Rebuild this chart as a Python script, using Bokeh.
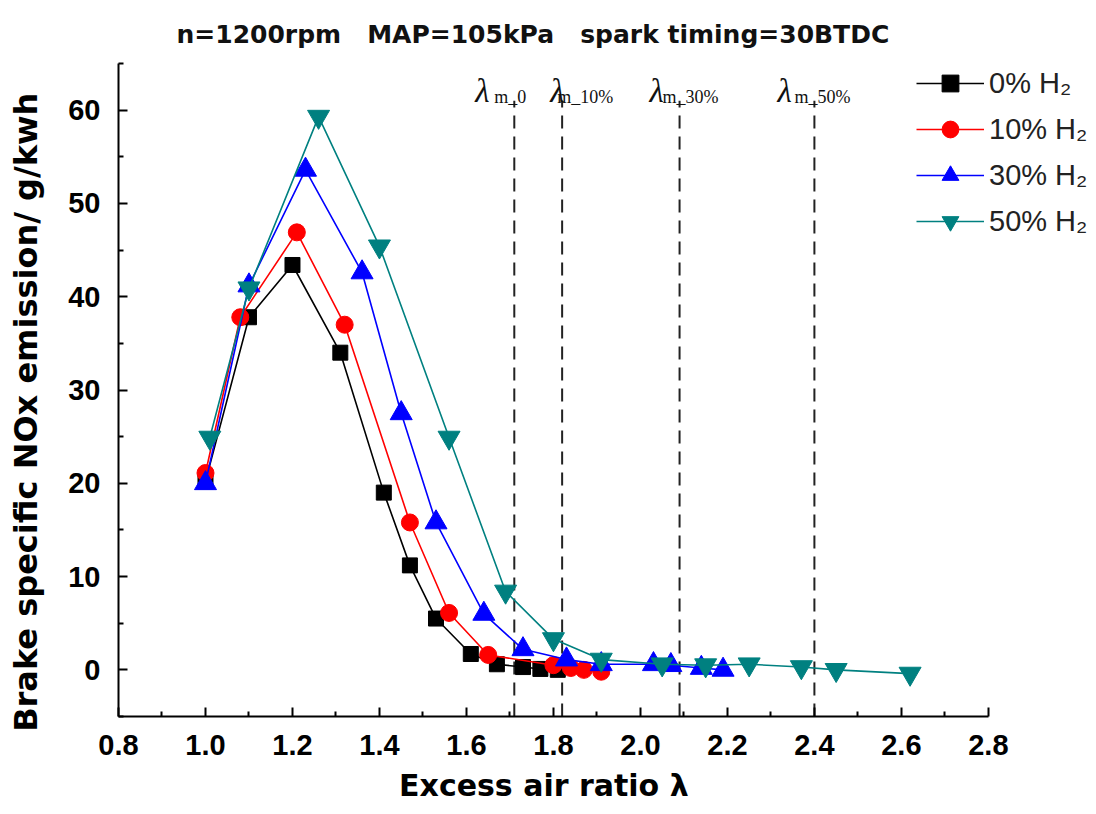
from bokeh.plotting import figure
from bokeh.models import Range1d, FixedTicker, PrintfTickFormatter, Legend, LegendItem, ColumnDataSource
from bokeh.core.properties import value
from bokeh.embed import file_html
from bokeh.resources import INLINE

# ---------------- data ----------------
x_h0 = [1.00, 1.10, 1.20, 1.31, 1.41, 1.47, 1.53, 1.61, 1.67, 1.73, 1.77, 1.81]
y_h0 = [20.2, 37.8, 43.4, 34.0, 19.0, 11.2, 5.5, 1.7, 0.6, 0.3, 0.1, 0.0]

x_h10 = [1.00, 1.08, 1.21, 1.32, 1.47, 1.56, 1.65, 1.80, 1.84, 1.87, 1.91]
y_h10 = [21.1, 37.8, 46.9, 37.0, 15.8, 6.1, 1.6, 0.5, 0.2, 0.0, -0.2]

x_h30 = [1.00, 1.10, 1.23, 1.36, 1.45, 1.53, 1.64, 1.73, 1.83, 1.91, 2.03, 2.07, 2.14, 2.19]
y_h30 = [20.0, 41.2, 53.6, 42.6, 27.5, 15.8, 6.0, 2.2, 1.1, 0.6, 0.6, 0.5, 0.2, 0.0]

x_h50 = [1.01, 1.10, 1.26, 1.40, 1.56, 1.69, 1.80, 1.91, 2.05, 2.15, 2.25, 2.37, 2.45, 2.62]
y_h50 = [24.9, 40.9, 59.3, 45.4, 24.9, 8.4, 3.3, 1.1, 0.6, 0.5, 0.6, 0.3, 0.0, -0.4]

series_labels = ["0% H₂", "10% H₂", "30% H₂", "50% H₂"]

lambda_m = [1.71, 1.82, 2.09, 2.40]
lambda_sub = ["m_0", "m_10%", "m_30%", "m_50%"]

x_major = [0.8, 1.0, 1.2, 1.4, 1.6, 1.8, 2.0, 2.2, 2.4, 2.6, 2.8]
x_minor = [0.9, 1.1, 1.3, 1.5, 1.7, 1.9, 2.1, 2.3, 2.5, 2.7]
y_major = [0, 10, 20, 30, 40, 50, 60]
y_minor = [-5, 5, 15, 25, 35, 45, 55, 65]

NB = "\u00a0"
title_text = "n=1200rpm" + NB * 3 + "MAP=105kPa" + NB * 3 + "spark timing=30BTDC"
x_label = "Excess air ratio  λ" + NB * 11
y_label = "Brake specific NOx emission/ g/kwh" + NB * 4

# ---------------- figure ----------------
# x axis is drawn from 0.8 to 2.8; the frame extends further right to host the legend
p = figure(width=1096, height=812, output_backend="svg", toolbar_location=None,
           x_range=Range1d(0.8, 3.044), y_range=Range1d(-5, 65),
           min_border_left=118, min_border_right=2, min_border_top=63, min_border_bottom=96)
p.outline_line_color = None
p.xgrid.visible = False
p.ygrid.visible = False
p.background_fill_color = "white"

p.title.text = title_text
p.title.align = "left"
p.title.offset = 58
p.title.text_font = "DejaVu Sans"
p.title.text_font_style = "bold"
p.title.text_font_size = "25px"
p.title.text_color = "#111111"
p.title.standoff = 30

for ax in (p.xaxis[0], p.yaxis[0]):
    ax.axis_line_width = 2
    ax.major_tick_line_width = 2
    ax.minor_tick_line_width = 2
    ax.major_tick_in = 9
    ax.major_tick_out = 0
    ax.minor_tick_in = 5
    ax.minor_tick_out = 0
    ax.major_label_text_font = "Liberation Sans"
    ax.major_label_text_font_style = "bold"
    ax.major_label_text_font_size = "29px"
    ax.major_label_text_color = "black"
    ax.axis_label_text_font = "DejaVu Sans"
    ax.axis_label_text_font_style = "bold"
    ax.axis_label_text_color = "black"

p.xaxis[0].bounds = (0.8, 2.8)
p.xaxis[0].ticker = FixedTicker(ticks=x_major, minor_ticks=x_minor)
p.xaxis[0].formatter = PrintfTickFormatter(format="%.1f")
p.xaxis[0].major_label_standoff = 18
p.xaxis[0].axis_label = x_label
p.xaxis[0].axis_label_text_font_size = "30px"
p.xaxis[0].axis_label_standoff = 10

p.yaxis[0].ticker = FixedTicker(ticks=y_major, minor_ticks=y_minor)
p.yaxis[0].major_label_standoff = 18
p.yaxis[0].axis_label = y_label
p.yaxis[0].axis_label_text_font_size = "32px"
p.yaxis[0].axis_label_standoff = 20

# dashed lambda_m lines
dash_bottom, dash_top = -5, 61
p.segment(x0=lambda_m, y0=[dash_bottom] * 4, x1=lambda_m, y1=[dash_top] * 4,
          line_color="#222222", line_width=2, line_dash="13 8")

lam_src = ColumnDataSource(dict(x=lambda_m, lam=["λ"] * 4, sub=lambda_sub,
                                off_l=[-39, -12, -30, -37], off_s=[-20, -5, -17, -20]))
p.text(x="x", y=62.0, text="lam", x_offset="off_l", source=lam_src,
       text_font=value("Liberation Serif"), text_font_style="italic",
       text_font_size="33px", text_color="#111111", text_baseline="alphabetic")
p.text(x="x", y=61.4, text="sub", x_offset="off_s", source=lam_src,
       text_font=value("Liberation Serif"), text_font_size="18px",
       text_color="#111111", text_baseline="alphabetic")

# series
items = []
specs = [
    (x_h0, y_h0, "black", "square", 15),
    (x_h10, y_h10, "red", "circle", 17),
    (x_h30, y_h30, "blue", "triangle", 22),
    (x_h50, y_h50, "#008080", "inverted_triangle", 22),
]
for (xs, ys, col, mk, sz), lab in zip(specs, series_labels):
    r1 = p.line(xs, ys, line_color=col, line_width=1.6)
    r2 = p.scatter(xs, ys, marker=mk, size=sz, fill_color=col, line_color=col)
    items.append(LegendItem(label=lab, renderers=[r1, r2]))

legend = Legend(items=items, location=(794, 470))
legend.border_line_alpha = 0
legend.background_fill_alpha = 0
legend.label_text_font = "Liberation Sans"
legend.label_text_font_size = "29px"
legend.label_text_color = "#222222"
legend.glyph_width = 68
legend.glyph_height = 42
legend.label_standoff = 5
legend.spacing = 4
legend.padding = 4
p.add_layout(legend, "center")

open("out.html", "w").write(file_html(p, INLINE))
